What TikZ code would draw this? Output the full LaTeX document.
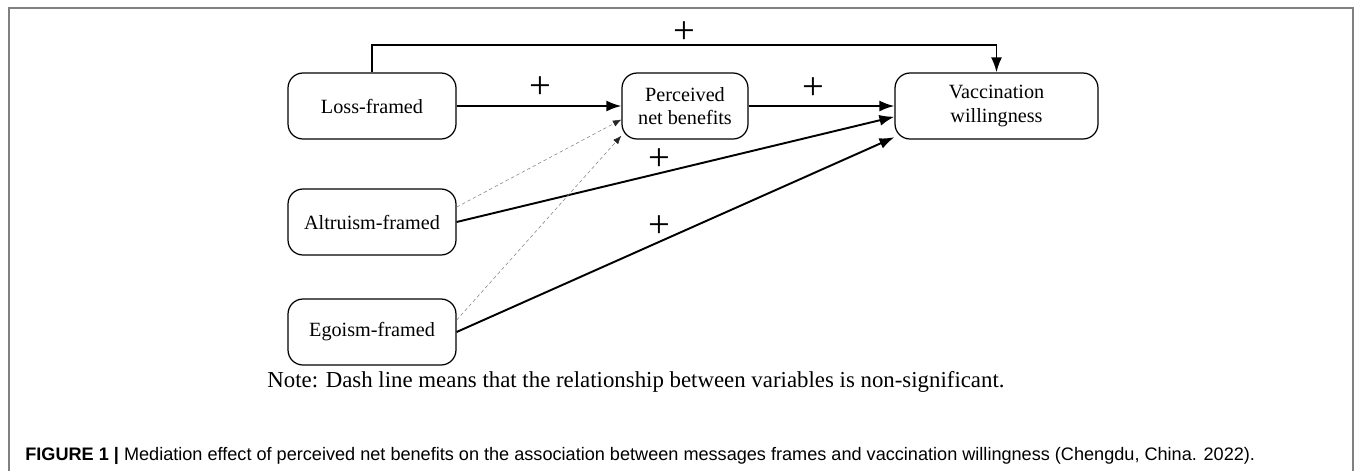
\documentclass[tikz,border=0pt]{standalone}
\usepackage{fontspec}
\setmainfont{Liberation Serif}
\newfontfamily\capfont{Liberation Sans}
\usetikzlibrary{arrows.meta}
\begin{document}
\begin{tikzpicture}[x=0.02cm,y=-0.02cm,
 box/.style={draw, line width=0.7pt, rounded corners=0.3cm, minimum height=1.32cm, inner sep=0pt, align=center, font=\fontsize{11.5}{13.5}\selectfont},
 arr/.style={line width=1.1pt, -{Latex[length=0.3cm,width=0.22cm]}},
 dasharr/.style={draw=gray, line width=0.3pt, dash pattern=on 2pt off 1.5pt, -{Latex[length=0.17cm,width=0.13cm,color=black!85,fill=black!85]}},
 plus/.style={font=\fontsize{22}{22}\selectfont, inner sep=0pt},
 frame/.style={draw=gray, line width=1pt}]
\useasboundingbox (0,0) rectangle (1355,471);
\draw[frame] (9,471) -- (9,8) -- (1353,8) -- (1353,471);

\node[box, minimum width=3.36cm] (loss) at (372,106) {Loss-framed};
\node[box, minimum width=2.52cm] (perc) at (685,106) {Perceived\\net benefits};
\node[box, minimum width=4.06cm] (vacc) at (996.5,106) {Vaccination\\willingness};
\node[box, minimum width=3.36cm] (alt) at (372,222) {Altruism-framed};
\node[box, minimum width=3.36cm] (ego) at (372,332) {Egoism-framed};

\draw[arr] (loss.north) -- ++(0,-27) -| (vacc.north);
\draw[arr] (loss.east) -- (perc.west);
\draw[arr] (perc.east) -- (vacc.west);
\draw[arr] (alt.east) -- (vacc.186);
\draw[arr] (ego.east) -- (vacc.197);
\draw[dasharr] (alt.10) -- (perc.192);
\draw[dasharr] (ego.8) -- (perc.205);

\node[plus] (p1) at (684,33) {+};
\node[plus] (p2) at (540,88) {+};
\node[plus] (p3) at (813,89) {+};
\node[plus] (p4) at (659,160) {+};
\node[plus] (p5) at (659,227) {+};

\node[font=\fontsize{13}{15}\selectfont, inner sep=0pt, anchor=base] (note) at (636,387) {Note: Dash line means that the relationship between variables is non-significant.};
\node[anchor=base west, inner sep=0pt] (cap) at (25,460) {\resizebox{24.6cm}{!}{\capfont\fontsize{10}{12}\selectfont\textbf{FIGURE 1 |} Mediation effect of perceived net benefits on the association between messages frames and vaccination willingness (Chengdu, China. 2022).}};
\end{tikzpicture}
\end{document}
